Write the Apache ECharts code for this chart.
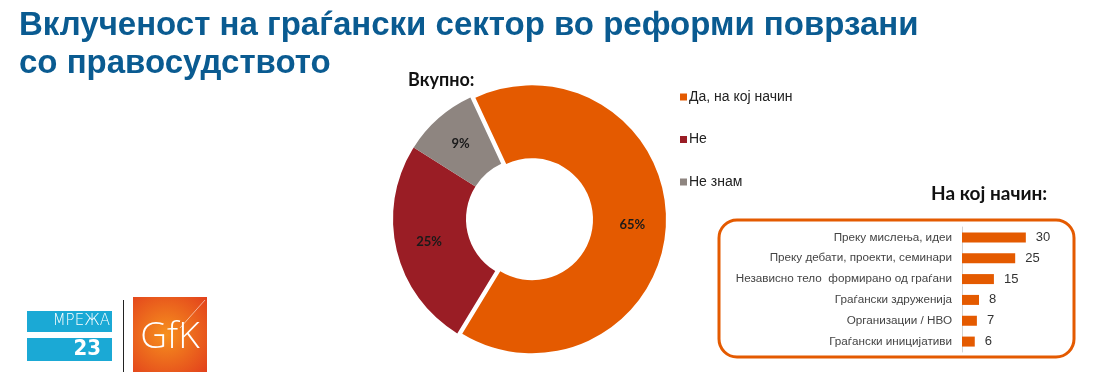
<!DOCTYPE html>
<html>
<head>
<meta charset="utf-8">
<script src="https://cdn.jsdelivr.net/npm/echarts@6/dist/echarts.min.js"></script>
<style>
  html, body { margin: 0; padding: 0; background: #fff; }
  #main { width: 1096px; height: 378px; }
</style>
</head>
<body>
<div id="main"></div>
<script>
// overall answer (donut)
var pieNames = ['Да, на кој начин', 'Не', 'Не знам'];
var pieValues = [65, 25, 9];
var pieColors = ['#e45a00', '#9a1d25', '#8e8580'];

// "how" breakdown (bars)
var wayCategories = [
  'Преку мислења, идеи',
  'Преку дебати, проекти, семинари',
  'Независно тело  формирано од граѓани',
  'Граѓански здруженија',
  'Организации / НВО',
  'Граѓански иницијативи'
];
var wayValues = [30, 25, 15, 8, 7, 6];

var chart = echarts.init(document.getElementById('main'));

var pieData = [];
for (var i = 0; i < pieNames.length; i++) {
  pieData.push({
    name: pieNames[i],
    value: pieValues[i],
    selected: i === 0,
    itemStyle: { color: pieColors[i] }
  });
}

var option = {
  animation: false,
  title: [
    {
      text: 'Вклученост на граѓански сектор во реформи поврзани\nсо правосудството',
      left: 14, top: 2,
      textStyle: {
        fontFamily: 'Liberation Sans', fontSize: 33, fontWeight: 'bold',
        color: '#0a5b91', lineHeight: 38
      }
    },
    {
      text: 'Вкупно:',
      left: 403, top: 66,
      textStyle: { fontFamily: 'Lato', fontSize: 18, fontWeight: 'bold', color: '#111' }
    },
    {
      text: 'На кој начин:',
      left: 926, top: 179,
      textStyle: { fontFamily: 'Lato', fontSize: 19, fontWeight: 'bold', color: '#111' }
    }
  ],
  legend: {
    orient: 'vertical',
    left: 675, top: 84,
    itemWidth: 7, itemHeight: 7,
    itemGap: 26.5,
    icon: 'rect',
    selectedMode: false,
    data: pieNames,
    textStyle: { fontFamily: 'Liberation Sans', fontSize: 14, color: '#222', lineHeight: 16, padding: [0, 0, 0, -3] }
  },
  grid: { left: 962, top: 227, width: 100, height: 125 },
  xAxis: { type: 'value', min: 0, max: 47, show: false },
  yAxis: {
    type: 'category',
    inverse: true,
    data: wayCategories,
    axisLine: { lineStyle: { color: '#d4d4d4', width: 1 } },
    axisTick: { show: false },
    axisLabel: { fontFamily: 'Liberation Sans', fontSize: 11.7, color: '#444', margin: 10 }
  },
  series: [
    {
      type: 'pie',
      center: [527, 219],
      radius: [61, 134],
      startAngle: 115,
      selectedMode: 'single',
      selectedOffset: 5,
      emphasis: { disabled: true },
      label: {
        position: 'inside',
        formatter: '{c}%',
        fontFamily: 'Lato', fontSize: 13, fontWeight: 'bold', color: '#1a1a1a'
      },
      labelLine: { show: false },
      data: pieData
    },
    {
      type: 'bar',
      data: wayValues,
      barWidth: 10,
      itemStyle: { color: '#e45a00' },
      label: {
        show: true, position: 'right', distance: 10,
        fontFamily: 'Liberation Sans', fontSize: 13, color: '#333'
      }
    }
  ],
  graphic: [
    // rounded frame round the bar panel
    {
      type: 'rect', z: -1,
      shape: { x: 719, y: 220, width: 355, height: 137, r: 18 },
      style: { fill: 'none', stroke: '#e45a00', lineWidth: 3 }
    },
    // Мрежа 23 logo
    { type: 'rect', shape: { x: 27, y: 311, width: 85, height: 21 }, style: { fill: '#1ba9d5' } },
    { type: 'rect', shape: { x: 27, y: 338, width: 85, height: 23 }, style: { fill: '#1ba9d5' } },
    {
      type: 'text', x: 110, y: 314,
      style: { text: 'МРЕЖА', fill: '#fff', font: '200 15px "DejaVu Sans ExtraLight", "DejaVu Sans"', align: 'right' }
    },
    {
      type: 'text', x: 101, y: 338,
      style: { text: '23', fill: '#fff', font: 'bold 22px "DejaVu Sans Condensed"', align: 'right' }
    },
    { type: 'line', shape: { x1: 123.5, y1: 300, x2: 123.5, y2: 372 }, style: { stroke: '#222', lineWidth: 1 } },
    // GfK logo
    {
      type: 'rect',
      shape: { x: 133, y: 297, width: 74, height: 75 },
      style: {
        fill: new echarts.graphic.RadialGradient(0.45, 0.5, 0.75, [
          { offset: 0, color: '#f6901e' },
          { offset: 1, color: '#e2401c' }
        ])
      }
    },
    { type: 'line', shape: { x1: 180, y1: 328, x2: 205, y2: 300 }, style: { stroke: 'rgba(255,255,255,0.55)', lineWidth: 1 } },
    {
      type: 'text', x: 170, y: 337,
      style: { text: 'GfK', fill: '#fff', font: '300 37px "Open Sans"', align: 'center', verticalAlign: 'middle' }
    }
  ]
};

chart.setOption(option);
</script>
</body>
</html>
